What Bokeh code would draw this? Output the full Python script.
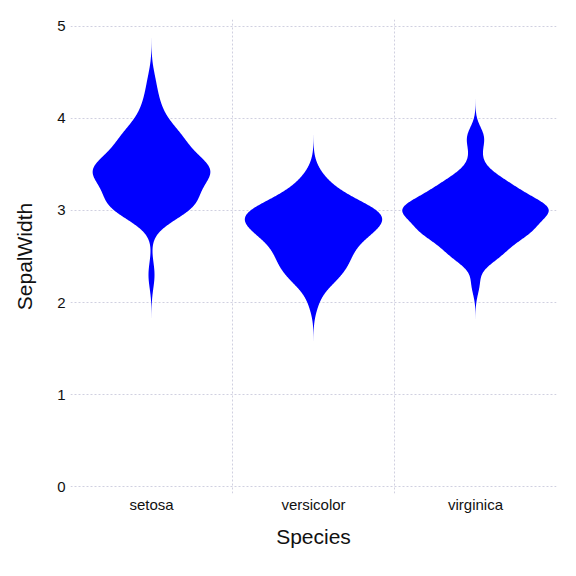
import numpy as np
from bokeh.plotting import figure
from bokeh.models import FixedTicker, Range1d
from bokeh.embed import file_html
from bokeh.resources import INLINE

species = ["setosa", "versicolor", "virginica"]

setosa = [3.5, 3.0, 3.2, 3.1, 3.6, 3.9, 3.4, 3.4, 2.9, 3.1, 3.7, 3.4, 3.0, 3.0, 4.0,
          4.4, 3.9, 3.5, 3.8, 3.8, 3.4, 3.7, 3.6, 3.3, 3.4, 3.0, 3.4, 3.5, 3.4, 3.2,
          3.1, 3.4, 4.1, 4.2, 3.1, 3.2, 3.5, 3.6, 3.0, 3.4, 3.5, 2.3, 3.2, 3.5, 3.8,
          3.0, 3.8, 3.2, 3.7, 3.3]
versicolor = [3.2, 3.2, 3.1, 2.3, 2.8, 2.8, 3.3, 2.4, 2.9, 2.7, 2.0, 3.0, 2.2, 2.9, 2.9,
              3.1, 3.0, 2.7, 2.2, 2.5, 3.2, 2.8, 2.5, 2.8, 2.9, 3.0, 2.8, 3.0, 2.9, 2.6,
              2.4, 2.4, 2.7, 2.7, 3.0, 3.4, 3.1, 2.3, 3.0, 2.5, 2.6, 3.0, 2.6, 2.3, 2.7,
              3.0, 2.9, 2.9, 2.5, 2.8]
virginica = [3.3, 2.7, 3.0, 2.9, 3.0, 3.0, 2.5, 2.9, 2.5, 3.6, 3.2, 2.7, 3.0, 2.5, 2.8,
             3.2, 3.0, 3.8, 2.6, 2.2, 3.2, 2.8, 2.8, 2.7, 3.3, 3.2, 2.8, 3.0, 2.8, 3.0,
             2.8, 3.8, 2.8, 2.8, 2.6, 3.0, 3.4, 3.1, 3.0, 3.1, 3.1, 3.1, 2.7, 3.2, 3.3,
             3.0, 2.5, 3.0, 3.4, 3.0]
groups = [setosa, versicolor, virginica]
y_ticks = [0, 1, 2, 3, 4, 5]


def kde(data):
    d = np.asarray(data, dtype=float)
    n = len(d)
    q1, q3 = np.percentile(d, [25, 75])
    bw = 0.9 * min(np.std(d, ddof=1), (q3 - q1) / 1.34) * n ** (-0.2)
    ys = np.linspace(d.min() - 4 * bw, d.max() + 4 * bw, 500)
    dens = np.exp(-0.5 * ((ys[:, None] - d[None, :]) / bw) ** 2).sum(axis=1) / (n * bw * np.sqrt(2 * np.pi))
    return ys, dens


curves = [kde(g) for g in groups]
gmax = max(c[1].max() for c in curves)
half_width = 0.452

p = figure(width=576, height=576, output_backend="svg", toolbar_location=None,
           x_range=Range1d(0, 3), y_range=Range1d(-0.076, 5.076),
           min_border_left=70, min_border_right=20, min_border_top=19, min_border_bottom=83)
p.outline_line_color = None

for i, (ys, dens) in enumerate(curves):
    w = dens / gmax * half_width
    xs = np.concatenate([i + 0.5 - w, (i + 0.5 + w)[::-1]])
    yy = np.concatenate([ys, ys[::-1]])
    p.patch(xs, yy, fill_color="#0000FF", line_color=None)

p.xaxis.ticker = FixedTicker(ticks=[0.5, 1.5, 2.5])
p.xaxis.major_label_overrides = {0.5: species[0], 1.5: species[1], 2.5: species[2]}
p.yaxis.ticker = FixedTicker(ticks=y_ticks)
p.xgrid.ticker = FixedTicker(ticks=[1, 2])
p.ygrid.ticker = FixedTicker(ticks=y_ticks)

for g in (p.xgrid, p.ygrid):
    g.grid_line_color = "#D0D0E0"
    g.grid_line_dash = "2 2"
    g.grid_line_width = 1

p.xaxis.axis_label = "Species"
p.yaxis.axis_label = "SepalWidth"
for ax in (p.xaxis, p.yaxis):
    ax.axis_line_color = None
    ax.major_tick_line_color = None
    ax.minor_tick_line_color = None
    ax.major_tick_out = 0
    ax.major_tick_in = 0
    ax.minor_tick_out = 0
    ax.minor_tick_in = 0
    ax.major_label_text_font = "Liberation Sans"
    ax.major_label_text_font_size = "15px"
    ax.major_label_text_color = "#111111"
    ax.axis_label_text_font = "Liberation Sans"
    ax.axis_label_text_font_size = "21px"
    ax.axis_label_text_font_style = "normal"
    ax.axis_label_text_color = "#111111"
p.xaxis.major_label_standoff = 2
p.xaxis.axis_label_standoff = 9
p.yaxis.major_label_standoff = 5
p.yaxis.axis_label_standoff = 18

open("out.html", "w").write(file_html(p, INLINE))
